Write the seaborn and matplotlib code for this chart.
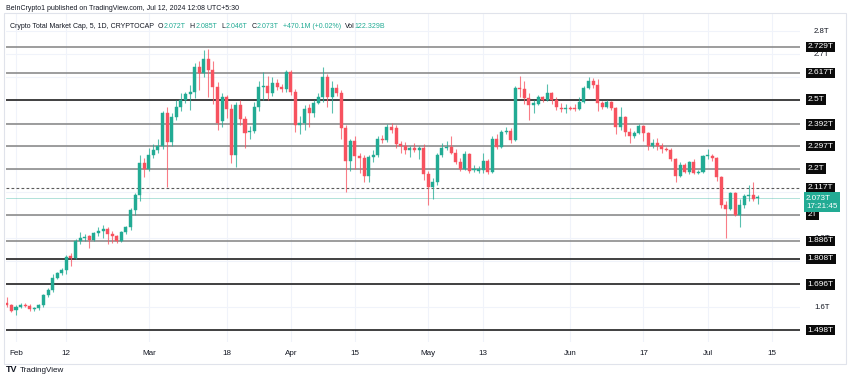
import matplotlib
matplotlib.use("Agg")
import matplotlib.pyplot as plt
import matplotlib.dates as mdates
import matplotlib.transforms as mtransforms
from matplotlib.patches import Rectangle
import numpy as np
import pandas as pd
import seaborn as sns

# ---------------- data ----------------
start_date = "2024-01-30"
opens = [1.617,1.607,1.583,1.598,1.608,1.603,1.588,1.592,1.606,1.650,
         1.672,1.726,1.745,1.757,1.820,1.810,1.886,1.900,1.905,1.890,
         1.920,1.928,1.937,1.915,1.905,1.887,1.925,1.945,2.020,2.085,
         2.225,2.200,2.260,2.280,2.300,2.440,2.315,2.425,2.470,2.500,
         2.525,2.535,2.640,2.615,2.677,2.630,2.555,2.405,2.510,2.460,
         2.260,2.477,2.415,2.360,2.365,2.468,2.555,2.560,2.530,2.573,
         2.555,2.545,2.620,2.535,2.390,2.400,2.465,2.440,2.485,2.510,
         2.600,2.510,2.550,2.530,2.377,2.233,2.320,2.255,2.245,2.170,
         2.250,2.260,2.330,2.325,2.380,2.375,2.306,2.300,2.280,2.290,
         2.280,2.290,2.175,2.120,2.140,2.260,2.290,2.295,2.270,2.230,
         2.200,2.265,2.195,2.190,2.195,2.235,2.185,2.330,2.295,2.360,
         2.365,2.325,2.550,2.545,2.505,2.476,2.480,2.510,2.500,2.530,
         2.500,2.465,2.460,2.465,2.465,2.460,2.490,2.550,2.580,2.565,
         2.485,2.470,2.490,2.465,2.380,2.425,2.360,2.340,2.355,2.385,
         2.355,2.300,2.310,2.300,2.285,2.280,2.240,2.170,2.215,2.185,
         2.230,2.180,2.185,2.255,2.255,2.245,2.165,2.040,2.025,2.095,
         2.000,2.040,2.080,2.085,2.072]
closes = [1.607,1.581,1.598,1.608,1.603,1.588,1.592,1.606,1.650,1.672,
          1.726,1.745,1.757,1.817,1.810,1.886,1.900,1.902,1.890,1.920,
          1.928,1.937,1.915,1.905,1.887,1.925,1.945,2.020,2.085,2.225,
          2.200,2.260,2.280,2.300,2.440,2.315,2.425,2.470,2.500,2.525,
          2.535,2.640,2.615,2.677,2.630,2.555,2.400,2.510,2.460,2.260,
          2.477,2.415,2.355,2.365,2.468,2.555,2.560,2.530,2.573,2.555,
          2.545,2.620,2.535,2.390,2.400,2.460,2.440,2.485,2.510,2.600,
          2.510,2.550,2.530,2.377,2.233,2.320,2.255,2.245,2.170,2.250,
          2.260,2.330,2.325,2.380,2.370,2.306,2.298,2.280,2.290,2.280,
          2.290,2.175,2.120,2.140,2.260,2.290,2.295,2.270,2.230,2.200,
          2.265,2.190,2.200,2.200,2.235,2.185,2.330,2.295,2.360,2.365,
          2.325,2.550,2.545,2.505,2.476,2.485,2.510,2.500,2.530,2.500,
          2.470,2.460,2.465,2.462,2.460,2.490,2.550,2.580,2.565,2.485,
          2.468,2.490,2.465,2.380,2.425,2.360,2.340,2.355,2.385,2.355,
          2.300,2.310,2.300,2.285,2.280,2.240,2.170,2.215,2.185,2.230,
          2.180,2.185,2.255,2.255,2.245,2.165,2.040,2.025,2.095,2.000,
          2.040,2.080,2.085,2.070,2.073]
highs = [1.643,1.612,1.605,1.616,1.615,1.610,1.600,1.612,1.656,1.680,
         1.740,1.752,1.766,1.826,1.832,1.892,1.925,1.915,1.910,1.926,
         1.945,1.955,1.945,1.928,1.912,1.930,1.952,2.028,2.095,2.260,
         2.245,2.290,2.305,2.330,2.450,2.470,2.440,2.500,2.530,2.535,
         2.565,2.660,2.670,2.716,2.722,2.670,2.575,2.530,2.520,2.480,
         2.490,2.500,2.430,2.385,2.490,2.580,2.620,2.605,2.600,2.590,
         2.570,2.630,2.630,2.545,2.430,2.475,2.480,2.500,2.530,2.640,
         2.610,2.580,2.570,2.540,2.390,2.330,2.340,2.270,2.260,2.260,
         2.280,2.340,2.345,2.395,2.400,2.390,2.320,2.315,2.300,2.310,
         2.300,2.305,2.190,2.160,2.270,2.310,2.320,2.340,2.285,2.245,
         2.275,2.270,2.215,2.210,2.270,2.240,2.340,2.350,2.370,2.380,
         2.375,2.560,2.605,2.580,2.530,2.500,2.520,2.515,2.570,2.535,
         2.510,2.485,2.480,2.472,2.480,2.510,2.560,2.600,2.595,2.590,
         2.492,2.497,2.495,2.470,2.470,2.430,2.375,2.362,2.395,2.390,
         2.360,2.330,2.335,2.310,2.292,2.290,2.245,2.228,2.225,2.235,
         2.240,2.192,2.260,2.285,2.265,2.250,2.170,2.060,2.100,2.100,
         2.070,2.090,2.130,2.140,2.085]
lows = [1.600,1.575,1.563,1.593,1.598,1.582,1.580,1.586,1.600,1.643,
        1.665,1.718,1.738,1.740,1.775,1.805,1.872,1.885,1.855,1.883,
        1.905,1.898,1.870,1.875,1.876,1.882,1.915,1.935,2.000,2.060,
        2.165,2.190,2.248,2.268,2.285,2.120,2.300,2.410,2.450,2.485,
        2.455,2.505,2.540,2.600,2.510,2.480,2.370,2.380,2.420,2.225,
        2.205,2.390,2.290,2.330,2.355,2.450,2.500,2.500,2.515,2.540,
        2.535,2.535,2.520,2.360,2.350,2.370,2.380,2.425,2.480,2.490,
        2.470,2.440,2.515,2.330,2.100,2.190,2.200,2.180,2.140,2.140,
        2.230,2.250,2.310,2.315,2.355,2.290,2.270,2.265,2.250,2.272,
        2.240,2.150,2.040,2.070,2.130,2.250,2.280,2.262,2.220,2.190,
        2.195,2.180,2.185,2.180,2.180,2.175,2.180,2.285,2.290,2.350,
        2.310,2.320,2.510,2.480,2.410,2.440,2.475,2.490,2.495,2.480,
        2.455,2.445,2.440,2.455,2.450,2.455,2.485,2.545,2.550,2.450,
        2.460,2.462,2.455,2.350,2.370,2.340,2.310,2.335,2.350,2.320,
        2.280,2.290,2.280,2.270,2.275,2.235,2.140,2.165,2.180,2.175,
        2.175,2.175,2.180,2.240,2.235,2.145,2.030,1.900,2.020,1.995,
        1.946,2.030,2.060,2.060,2.046]

level_values = [2.729, 2.617, 2.5, 2.392, 2.297, 2.2, 2.0, 1.886, 1.808, 1.696, 1.498]
level_labels = ["2.729T", "2.617T", "2.5T", "2.392T", "2.297T", "2.2T", "2T",
                "1.886T", "1.808T", "1.696T", "1.498T"]
dashed_value = 2.117
dashed_label = "2.117T"
last_price = 2.073
last_label = "2.073T"
countdown = "17:21:45"

# price-scale labels left uncovered by the level boxes
price_ticks = [1.6, 1.9, 2.7, 2.8]
price_tick_labels = ["1.6T", "1.9T", "2.7T", "2.8T"]
grid_prices = [1.5, 1.6, 1.7, 1.8, 1.9, 2.0, 2.1, 2.2, 2.3, 2.4, 2.5, 2.6, 2.7, 2.8]
date_ticks = ["2024-02-01", "2024-02-12", "2024-03-01", "2024-03-18", "2024-04-01",
              "2024-04-15", "2024-05-01", "2024-05-13", "2024-06-01", "2024-06-17",
              "2024-07-01", "2024-07-15"]
date_tick_labels = ["Feb", "12", "Mar", "18", "Apr", "15", "May", "13", "Jun", "17", "Jul", "15"]

publish_line = "BeInCrypto1 published on TradingView.com, Jul 12, 2024 12:08 UTC+5:30"
symbol_line = "Crypto Total Market Cap, 5, 1D, CRYPTOCAP"
ohlc_keys = ["O", "H", "L", "C", "", "Vol"]
ohlc_vals = ["2.072T", "2.085T", "2.046T", "2.073T", "+470.1M (+0.02%)", "122.329B"]

# ---------------- style ----------------
sns.set_theme(style="white")
plt.rcParams["font.family"] = ["Liberation Sans", "DejaVu Sans"]

UP = "#22ab94"
DOWN = "#f7525f"
TXT = "#131722"

df = pd.DataFrame({
    "date": pd.date_range(start_date, periods=len(closes), freq="D"),
    "open": opens, "high": highs, "low": lows, "close": closes,
})
df["x"] = mdates.date2num(df["date"])
df["up"] = df["close"] >= df["open"]
df["color"] = np.where(df["up"], UP, DOWN)

W, H = 850, 381
fig = plt.figure(figsize=(W / 100, H / 100), dpi=100)
fig.patch.set_facecolor("white")

ax_left, ax_right, ax_top, ax_bot = 6, 800, 14, 342
ax = fig.add_axes([ax_left / W, (H - ax_bot) / H, (ax_right - ax_left) / W, (ax_bot - ax_top) / H])
ax.set_facecolor("white")

def ypx_to_price(ypx):
    return 2.729 - (ypx - 47) / 229.9

ax.set_ylim(ypx_to_price(ax_bot), ypx_to_price(ax_top))
feb1 = mdates.date2num(pd.Timestamp("2024-02-01"))
ppd = 4.58
ax.set_xlim(feb1 + (ax_left - 16) / ppd, feb1 + (ax_right - 16) / ppd)

# faint grid
for d in date_ticks:
    ax.axvline(mdates.date2num(pd.Timestamp(d)), color="#f0f3fa", lw=0.8, zorder=0)
for p in grid_prices:
    ax.axhline(p, color="#f0f3fa", lw=0.8, zorder=0)

# level lines
dark_levels = {2.5, 1.808, 1.696, 1.498}
for v in level_values:
    if v in dark_levels:
        ax.axhline(v, color="#404040", lw=1.4, zorder=1)
    else:
        ax.axhline(v, color="#8c8c8c", lw=1.2, zorder=1)
ax.axhline(dashed_value, color="#5a5a5a", lw=0.8, ls=(0, (2.5, 2)), zorder=1)
ax.axhline(last_price, color=UP, lw=0.7, alpha=0.35, zorder=1)

# candles
ax.vlines(df["x"], df["low"], df["high"], colors=df["color"], lw=0.8, alpha=0.75, zorder=3)
body = (df["close"] - df["open"]).to_numpy()
body_h = np.where(np.abs(body) < 0.004, np.where(body >= 0, 0.004, -0.004), body)
ax.bar(df["x"], body_h, bottom=df["open"], width=0.66, color=df["color"],
       edgecolor=df["color"], linewidth=0.3, zorder=4)

# axes decoration
for s in ax.spines.values():
    s.set_visible(False)
ax.yaxis.tick_right()
ax.set_yticks(price_ticks)
ax.set_yticklabels(price_tick_labels)
ax.tick_params(axis="y", length=0, pad=10, labelsize=5.6, labelcolor=TXT)
ax.set_xticks([mdates.date2num(pd.Timestamp(d)) for d in date_ticks])
ax.set_xticklabels(date_tick_labels)
ax.tick_params(axis="x", length=0, pad=6, labelsize=5.8, labelcolor=TXT)
ax.grid(False)

# price boxes
box_x = (806 - ax_left) / (ax_right - ax_left)
trans = mtransforms.blended_transform_factory(ax.transAxes, ax.transData)
for v, lab in zip(level_values + [dashed_value], level_labels + [dashed_label]):
    ax.text(box_x + 0.002, v, lab, transform=trans, ha="left", va="center",
            fontsize=6.0, color="white", clip_on=False, zorder=10,
            bbox=dict(boxstyle="square,pad=0.2", fc="#0b0b0b", ec="none"))
ax.text(box_x, last_price, last_label + "\n" + countdown,
        transform=mtransforms.offset_copy(trans, fig=fig, y=-4.5, units="dots"),
        ha="left", va="center", fontsize=5.8, color="white", clip_on=False, zorder=11,
        linespacing=1.2,
        bbox=dict(boxstyle="square,pad=0.3", fc=UP, ec="none"))

# panel border
fig.patches.append(Rectangle((4 / W, (H - 364) / H), 842 / W, (364 - 13) / H,
                             transform=fig.transFigure, fill=False, ec="#e0e3eb", lw=0.8))

# header texts
fig.text(6 / W, 1 - 9 / H, publish_line, fontsize=5.0, color=TXT, ha="left", va="center")

renderer = fig.canvas.get_renderer()
def put(xpx, s, color, fs=5.0, ypx=26):
    t = fig.text(xpx / W, 1 - ypx / H, s, fontsize=fs, color=color, ha="left", va="center")
    return xpx + t.get_window_extent(renderer).width

x = 10
x = put(x, symbol_line, TXT) + 4
for k, v in zip(ohlc_keys, ohlc_vals):
    if k:
        x = put(x, k, TXT) + 0.3
    x = put(x, v, UP) + 4

# footer logo
fig.text(6 / W, 1 - 370 / H, "TV", fontsize=6.5, fontweight="bold", color=TXT, ha="left", va="center")
fig.text(20 / W, 1 - 370 / H, "TradingView", fontsize=5.8, color=TXT, ha="left", va="center")

fig.savefig("out.png", dpi=100, facecolor="white")
